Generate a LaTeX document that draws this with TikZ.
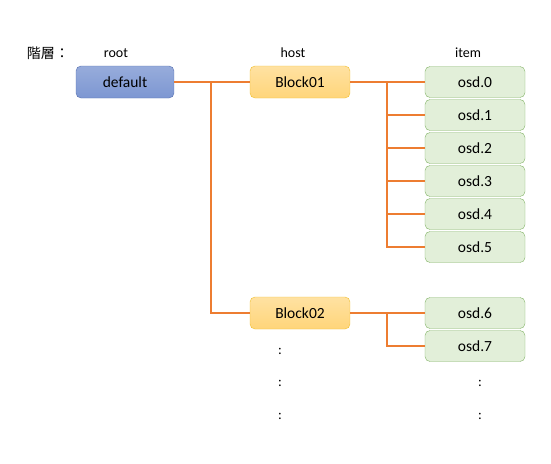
\documentclass[tikz,border=0pt]{standalone}
\usepackage{fontspec}
\setmainfont{Carlito}
\newfontfamily\cjk{Noto Sans CJK JP}
\usetikzlibrary{positioning}
\definecolor{linkorange}{HTML}{ED7D31}
\definecolor{rootfill}{HTML}{7D97D2}
\definecolor{rootdraw}{HTML}{5670B0}
\definecolor{hostfill}{HTML}{FFD57A}
\definecolor{hostdraw}{HTML}{F0BE2C}
\definecolor{itemfill}{HTML}{E2EFD9}
\definecolor{itemdraw}{HTML}{82B366}

\begin{document}
\begin{tikzpicture}
    [x=1pt,y=-1pt,font=\fontsize{15.5}{18}\selectfont,
     box/.style={draw, rounded corners=5pt, minimum width=100pt, minimum height=32pt, inner sep=0pt},
     rootbox/.style={box, top color=rootfill!80!white, bottom color=rootfill, draw=rootdraw, minimum width=98pt},
     hostbox/.style={box, top color=hostfill!70!white, bottom color=hostfill, draw=hostdraw},
     itembox/.style={box, fill=itemfill, draw=itemdraw, minimum height=31pt},
     link/.style={draw=linkorange, line width=2pt},
     lbl/.style={font=\fontsize{14}{16}\selectfont},
     dots/.style={inner sep=0pt}]
  \useasboundingbox (0,0) rectangle (551,463);

  % level labels
  \node[lbl] (lvl) at (48,53) {\cjk 階層：};
  \node[lbl] (lroot) at (116,53) {root};
  \node[lbl] (lhost) at (293,53) {host};
  \node[lbl] (litem) at (468,53) {item};

  % boxes
  \node[rootbox] (default) at (125,82) {default};
  \node[hostbox] (block01) at (300,82) {Block01};
  \node[hostbox] (block02) at (300,313) {Block02};
  \foreach \i/\y in {0/82, 1/115, 2/148, 3/181, 4/214, 5/247, 6/313, 7/346}
    \node[itembox] (osd\i) at (475,\y) {osd.\i};

  % connectors
  \coordinate (t0) at (211,82);
  \coordinate (t1) at (387,82);
  \coordinate (t2) at (387,313);
  \draw[link] (default.east) -- (block01.west);
  \draw[link] (t0) |- (block02.west);
  \draw[link] (block01.east) -- (osd0.west);
  \foreach \i in {1,...,5}
    \draw[link] (t1) |- (osd\i.west);
  \draw[link] (block02.east) -- (osd6.west);
  \draw[link] (t2) |- (osd7.west);

  % more hosts and items
  \foreach \y [count=\k] in {351,383,416}
    \node[dots, lbl] (hd\k) at (280,\y) {:};
  \foreach \y [count=\k] in {383,416}
    \node[dots, lbl] (id\k) at (480,\y) {:};
\end{tikzpicture}
\end{document}
